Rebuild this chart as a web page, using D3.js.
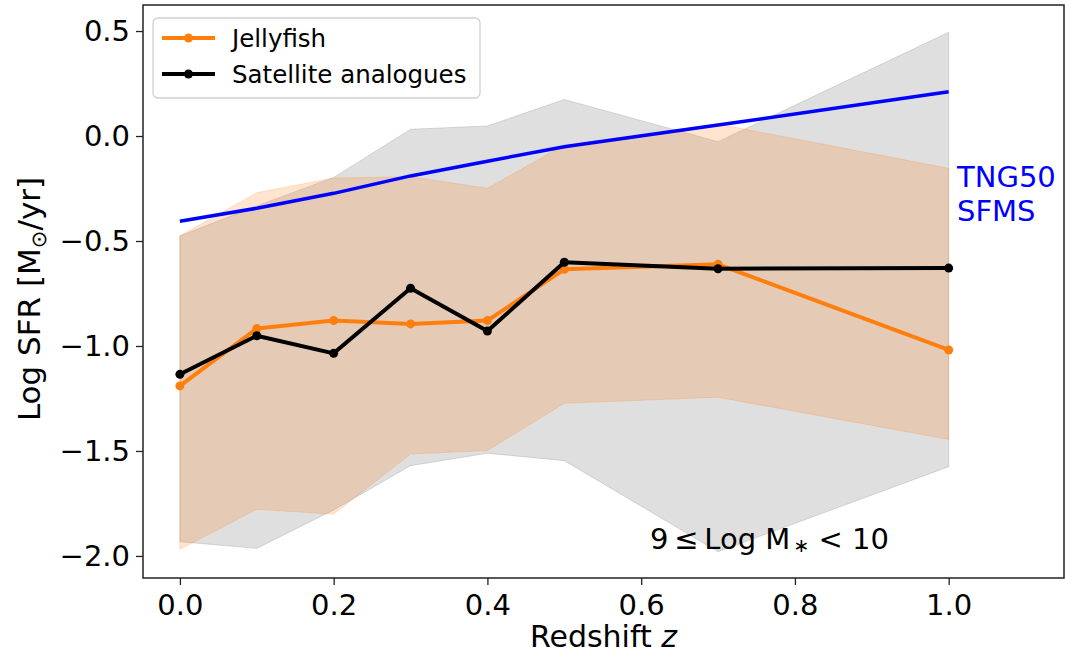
<!DOCTYPE html>
<html>
<head>
<meta charset="utf-8">
<script src="https://cdn.jsdelivr.net/npm/d3@7"></script>
<style>
  body { margin: 0; background: #fff; }
  svg text { font-family: "DejaVu Sans", sans-serif; }
</style>
</head>
<body>
<svg id="canvas" width="1065" height="657"></svg>
<script>
const redshift = [0, 0.1, 0.2, 0.3, 0.4, 0.5, 0.7, 1.0];

const jellyMedian = [-1.19, -0.917, -0.879, -0.895, -0.879, -0.635, -0.611, -1.019];
const jellyLow = [-1.968, -1.778, -1.801, -1.514, -1.498, -1.273, -1.244, -1.445];
const jellyHigh = [-0.476, -0.27, -0.2, -0.194, -0.249, -0.043, 0.057, -0.154];

const satMedian = [-1.135, -0.951, -1.035, -0.725, -0.929, -0.601, -0.632, -0.629];
const satLow = [-1.932, -1.964, -1.781, -1.57, -1.511, -1.546, -1.98, -1.575];
const satHigh = [-0.476, -0.333, -0.197, 0.032, 0.048, 0.174, -0.027, 0.494];

const sfms = [-0.406, -0.344, -0.273, -0.19, -0.12, -0.051, 0.052, 0.211];

const xTicks = [0, 0.2, 0.4, 0.6, 0.8, 1.0];
const yTicks = [0.5, 0, -0.5, -1.0, -1.5, -2.0];

const box = { left: 143, right: 1064, top: 5, bottom: 578 };

const canvas = d3.select("#canvas");

const x = d3.scaleLinear().domain([-0.048, 1.15]).range([box.left, box.right]);
const y = d3.scaleLinear().domain([0.624, -2.105]).range([box.top, box.bottom]);

const fmt = (v) => d3.format(".1f")(v).replace("-", "\u2212");

const band = (lo, hi) =>
  d3.area()
    .x((d, i) => x(redshift[i]))
    .y0((d, i) => y(lo[i]))
    .y1((d, i) => y(hi[i]))(redshift);

const line = (vals) =>
  d3.line()
    .x((d, i) => x(redshift[i]))
    .y((d, i) => y(vals[i]))(redshift);

// bands
canvas.append("path")
  .attr("d", band(satLow, satHigh))
  .attr("fill", "#808080").attr("fill-opacity", 0.25)
  .attr("stroke", "#808080").attr("stroke-opacity", 0.25).attr("stroke-width", 1);

canvas.append("path")
  .attr("d", band(jellyLow, jellyHigh))
  .attr("fill", "#ff7f0e").attr("fill-opacity", 0.2)
  .attr("stroke", "#ff7f0e").attr("stroke-opacity", 0.2).attr("stroke-width", 1);

// median lines
const drawSeries = (vals, color) => {
  canvas.append("path")
    .attr("d", line(vals))
    .attr("fill", "none")
    .attr("stroke", color)
    .attr("stroke-width", 4)
    .attr("stroke-linejoin", "round");
  canvas.append("g")
    .selectAll("circle")
    .data(vals)
    .enter()
    .append("circle")
    .attr("cx", (d, i) => x(redshift[i]))
    .attr("cy", (d) => y(d))
    .attr("r", 4.5)
    .attr("fill", color);
};

drawSeries(jellyMedian, "#ff7f0e");
drawSeries(satMedian, "#000000");

canvas.append("path")
  .attr("d", line(sfms))
  .attr("fill", "none")
  .attr("stroke", "#0000ff")
  .attr("stroke-width", 3.5);

// frame
canvas.append("rect")
  .attr("x", box.left).attr("y", box.top)
  .attr("width", box.right - box.left).attr("height", box.bottom - box.top)
  .attr("fill", "none").attr("stroke", "#222").attr("stroke-width", 1.5);

// axes
const xAxis = canvas.append("g")
  .attr("transform", `translate(0,${box.bottom})`)
  .call(d3.axisBottom(x).tickValues(xTicks).tickFormat(fmt).tickSize(7).tickPadding(9));
const yAxis = canvas.append("g")
  .attr("transform", `translate(${box.left},0)`)
  .call(d3.axisLeft(y).tickValues(yTicks).tickFormat(fmt).tickSize(7).tickPadding(6));

[xAxis, yAxis].forEach((ax) => {
  ax.select(".domain").remove();
  ax.selectAll(".tick line").attr("stroke", "#222").attr("stroke-width", 1.3);
  ax.selectAll(".tick text")
    .attr("fill", "#000")
    .style("font-size", "29px")
    .style("font-family", "DejaVu Sans");
});

// axis labels
const xLabel = canvas.append("text")
  .attr("x", (box.left + box.right) / 2)
  .attr("y", 647)
  .attr("text-anchor", "middle")
  .style("font-size", "30px");
xLabel.append("tspan").text("Redshift ");
xLabel.append("tspan").attr("font-style", "italic").text("z");

const yLabel = canvas.append("text")
  .attr("transform", "translate(40,299) rotate(-90)")
  .attr("text-anchor", "middle")
  .style("font-size", "31px");
yLabel.append("tspan").text("Log SFR [M");
yLabel.append("tspan").attr("dy", 6).style("font-size", "21px").text("\u2299");
yLabel.append("tspan").attr("dy", -6).text("/yr]");

// annotations
const sfmsText = canvas.append("text")
  .attr("fill", "#0000ff")
  .style("font-size", "29px");
sfmsText.append("tspan").attr("x", 957).attr("y", 187).text("TNG50");
sfmsText.append("tspan").attr("x", 957).attr("y", 221).text("SFMS");

const massText = canvas.append("text")
  .attr("x", 650).attr("y", 549)
  .style("font-size", "29px");
massText.append("tspan").text("9\u2009\u2264\u2009Log M");
massText.append("tspan").attr("dx", 3).attr("dy", 3).style("font-size", "19px").text("\u2217");
massText.append("tspan").attr("dy", -3).text(" < 10");

// legend
const legend = canvas.append("g");
legend.append("rect")
  .attr("x", 153).attr("y", 18).attr("width", 327).attr("height", 80)
  .attr("rx", 5)
  .attr("fill", "#fff").attr("fill-opacity", 0.8)
  .attr("stroke", "#d0d0d0").attr("stroke-width", 1.3);

const legendItems = [
  { label: "Jellyfish", color: "#ff7f0e", cy: 38 },
  { label: "Satellite analogues", color: "#000000", cy: 74 },
];

legendItems.forEach((item) => {
  legend.append("line")
    .attr("x1", 162).attr("x2", 215)
    .attr("y1", item.cy).attr("y2", item.cy)
    .attr("stroke", item.color).attr("stroke-width", 4);
  legend.append("circle")
    .attr("cx", 188.5).attr("cy", item.cy).attr("r", 4.5)
    .attr("fill", item.color);
  legend.append("text")
    .attr("x", 232).attr("y", item.cy)
    .attr("dy", "0.36em")
    .style("font-size", "24.5px")
    .text(item.label);
});
</script>
</body>
</html>
